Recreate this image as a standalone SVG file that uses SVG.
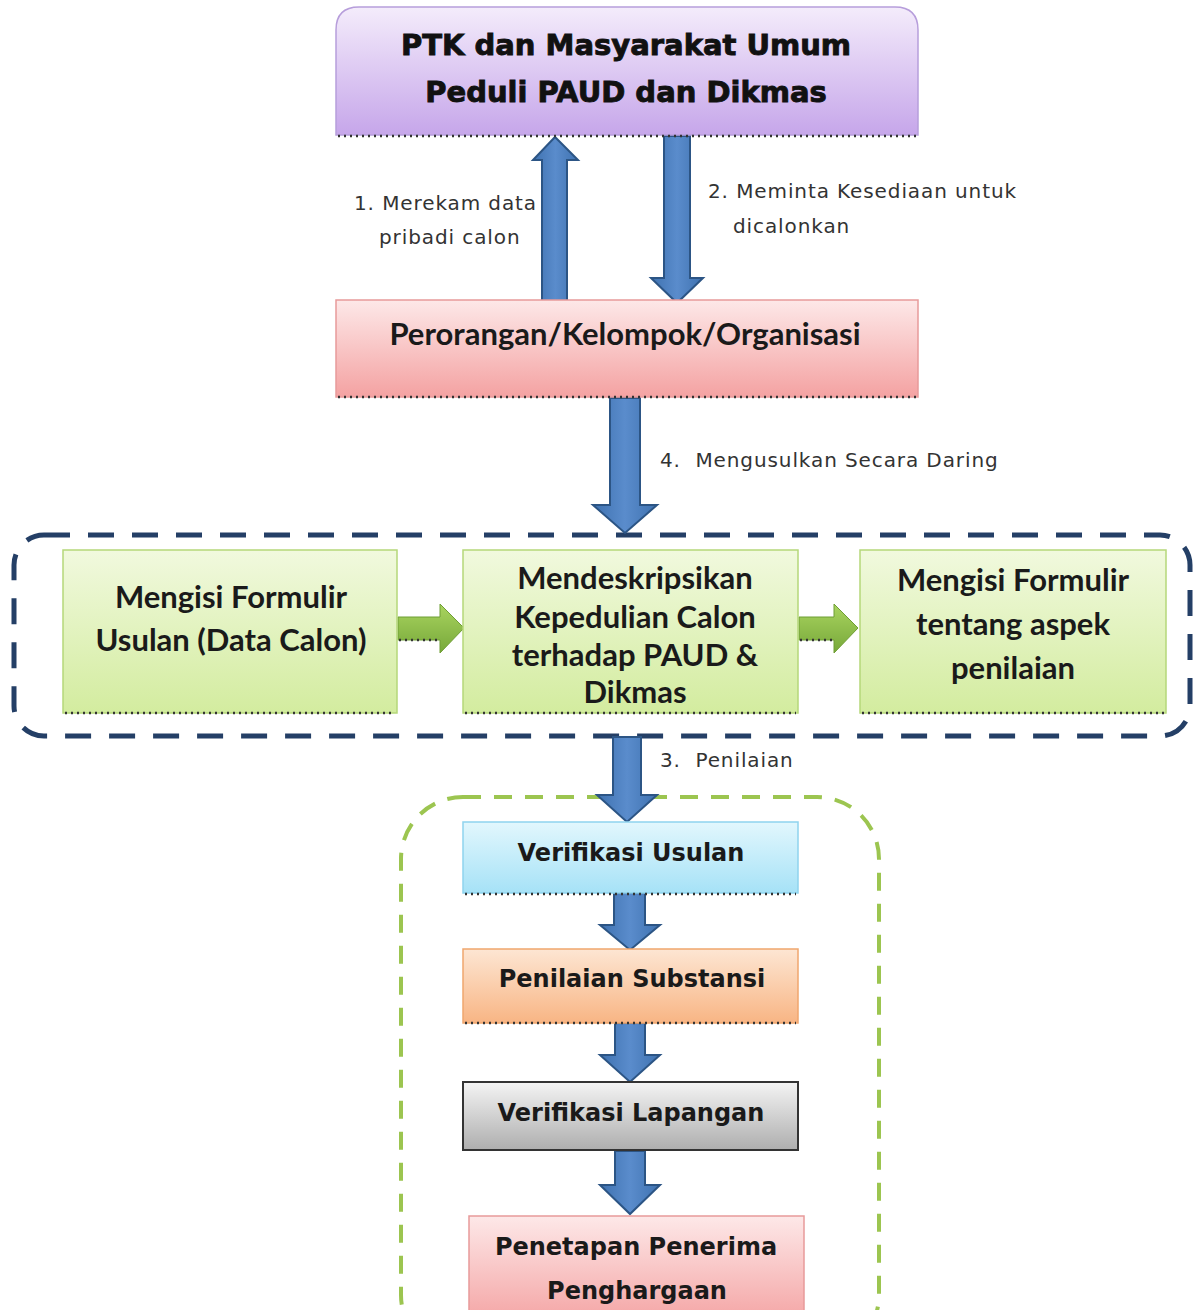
<svg xmlns="http://www.w3.org/2000/svg" width="1194" height="1310" viewBox="0 0 1194 1310">
  <style>
    .title { font-family: "DejaVu Sans", sans-serif; font-weight: bold; font-size: 29px; fill: #111; stroke: #111; stroke-width: 0.9; text-anchor: middle; }
    .cal { font-family: Lato, "Liberation Sans", sans-serif; font-weight: bold; font-size: 31px; fill: #1a1a1a; text-anchor: middle; }
    .step { font-family: "DejaVu Sans", sans-serif; font-weight: bold; font-size: 24px; fill: #1a1a1a; text-anchor: middle; }
    .lbl { font-family: "DejaVu Sans", sans-serif; font-size: 20px; letter-spacing: 0.9px; fill: #333; }
    .dots { fill: none; stroke: #333; stroke-width: 2.5; stroke-dasharray: 2 4; }
    .blue { fill: url(#gBlue); stroke: #2c5585; stroke-width: 2; }
    .garrow { fill: url(#gArrow); stroke: #6f9e34; stroke-width: 1; }
  </style>
  <defs>
    <linearGradient id="gPurple" x1="0" y1="0" x2="0" y2="1">
      <stop offset="0" stop-color="#f4ecfb"/>
      <stop offset="1" stop-color="#c6a6ea"/>
    </linearGradient>
    <linearGradient id="gPink" x1="0" y1="0" x2="0" y2="1">
      <stop offset="0" stop-color="#fde8e8"/>
      <stop offset="1" stop-color="#f4a2a2"/>
    </linearGradient>
    <linearGradient id="gGreen" x1="0" y1="0" x2="0" y2="1">
      <stop offset="0" stop-color="#f1f9de"/>
      <stop offset="1" stop-color="#d3ec9f"/>
    </linearGradient>
    <linearGradient id="gBlueBox" x1="0" y1="0" x2="0" y2="1">
      <stop offset="0" stop-color="#e2f7fd"/>
      <stop offset="1" stop-color="#a6e2f7"/>
    </linearGradient>
    <linearGradient id="gOrange" x1="0" y1="0" x2="0" y2="1">
      <stop offset="0" stop-color="#fde6d3"/>
      <stop offset="1" stop-color="#f8b584"/>
    </linearGradient>
    <linearGradient id="gGray" x1="0" y1="0" x2="0" y2="1">
      <stop offset="0" stop-color="#f4f4f4"/>
      <stop offset="1" stop-color="#aeaeae"/>
    </linearGradient>
    <linearGradient id="gBlue" x1="0" y1="0" x2="1" y2="0">
      <stop offset="0" stop-color="#3f72b0"/>
      <stop offset="0.5" stop-color="#5a8ccc"/>
      <stop offset="1" stop-color="#3f72b0"/>
    </linearGradient>
    <linearGradient id="gArrow" x1="0" y1="0" x2="0" y2="1">
      <stop offset="0" stop-color="#a9d45f"/>
      <stop offset="1" stop-color="#77a83a"/>
    </linearGradient>
  </defs>

  <rect width="1194" height="1310" fill="#ffffff"/>

  <!-- group outlines -->
  <g id="containers">
    <rect x="14" y="535" width="1176" height="201" rx="30" fill="none" stroke="#243f66" stroke-width="5" stroke-dasharray="26 18"/>
    <rect x="401" y="797" width="478" height="560" rx="62" fill="none" stroke="#9cc550" stroke-width="4" stroke-dasharray="18 13"/>
  </g>

  <!-- connectors -->
  <g id="connectors">
    <!-- 1: up arrow -->
    <path class="blue" d="M542,302 L542,160 L533,160 L555,137 L578,160 L567,160 L567,302 Z"/>
    <!-- 2: down arrow -->
    <path class="blue" d="M664,136 L690,136 L690,278 L703,278 L677,303 L651,278 L664,278 Z"/>
    <!-- 4: down arrow -->
    <path class="blue" d="M610,398 L640,398 L640,505 L657,505 L625,533 L593,505 L610,505 Z"/>
    <!-- 3: down arrow -->
    <path class="blue" d="M613,737 L641,737 L641,795 L657,795 L627,822 L597,795 L613,795 Z"/>
    <path class="blue" d="M614,893 L645,893 L645,925 L660,925 L630,950 L600,925 L614,925 Z"/>
    <path class="blue" d="M615,1023 L645,1023 L645,1055 L660,1055 L630,1082 L600,1055 L615,1055 Z"/>
    <path class="blue" d="M615,1151 L645,1151 L645,1185 L660,1185 L630,1214 L600,1185 L615,1185 Z"/>
    <!-- green arrows between form steps -->
    <path class="garrow" d="M398,617 L440,617 L440,604 L464,628 L440,653 L440,640 L398,640 Z"/>
    <path class="garrow" d="M799,617 L834,617 L834,604 L858,628 L834,653 L834,640 L799,640 Z"/>
    <line class="dots" x1="399" y1="640" x2="440" y2="640"/>
    <line class="dots" x1="800" y1="640" x2="834" y2="640"/>
  </g>

  <!-- connector labels -->
  <g id="labels">
    <text class="lbl" x="354" y="210">1. Merekam data</text>
    <text class="lbl" x="379" y="244">pribadi calon</text>
    <text class="lbl" x="708" y="198">2. Meminta Kesediaan untuk</text>
    <text class="lbl" x="733" y="233">dicalonkan</text>
    <text class="lbl" x="660" y="467" xml:space="preserve">4.  Mengusulkan Secara Daring</text>
    <text class="lbl" x="660" y="767" xml:space="preserve">3.  Penilaian</text>
  </g>

  <g id="node-ptk">
    <path d="M336,135 L336,30 Q336,7 359,7 L895,7 Q918,7 918,30 L918,135 Z" fill="url(#gPurple)" stroke="#b79edb" stroke-width="1.5"/>
    <line class="dots" x1="338" y1="136" x2="916" y2="136"/>
    <text class="title" x="626" y="55">PTK dan Masyarakat Umum</text>
    <text class="title" x="626" y="102">Peduli PAUD dan Dikmas</text>
  </g>

  <g id="node-perorangan">
    <rect x="336" y="300" width="582" height="97" fill="url(#gPink)" stroke="#e79a9a" stroke-width="1.5"/>
    <line class="dots" x1="338" y1="397" x2="916" y2="397"/>
    <text class="cal" x="625" y="345">Perorangan/Kelompok/Organisasi</text>
  </g>

  <g id="node-formulir">
    <rect x="63" y="550" width="334" height="163" fill="url(#gGreen)" stroke="#b5d77a" stroke-width="1.5"/>
    <line class="dots" x1="65" y1="713" x2="395" y2="713"/>
    <text class="cal" x="231" y="608">Mengisi Formulir</text>
    <text class="cal" x="231" y="651">Usulan (Data Calon)</text>
  </g>

  <g id="node-deskripsi">
    <rect x="463" y="550" width="335" height="163" fill="url(#gGreen)" stroke="#b5d77a" stroke-width="1.5"/>
    <line class="dots" x1="465" y1="713" x2="796" y2="713"/>
    <text class="cal" x="635" y="589">Mendeskripsikan</text>
    <text class="cal" x="635" y="628">Kepedulian Calon</text>
    <text class="cal" x="635" y="666">terhadap PAUD &amp;</text>
    <text class="cal" x="635" y="703">Dikmas</text>
  </g>

  <g id="node-aspek">
    <rect x="860" y="550" width="306" height="163" fill="url(#gGreen)" stroke="#b5d77a" stroke-width="1.5"/>
    <line class="dots" x1="862" y1="713" x2="1164" y2="713"/>
    <text class="cal" x="1013" y="591">Mengisi Formulir</text>
    <text class="cal" x="1013" y="635">tentang aspek</text>
    <text class="cal" x="1013" y="679">penilaian</text>
  </g>

  <g id="node-verifikasi-usulan">
    <rect x="463" y="822" width="335" height="71" fill="url(#gBlueBox)" stroke="#8fd3ee" stroke-width="1.5"/>
    <line class="dots" x1="465" y1="894" x2="796" y2="894"/>
    <text class="step" x="631" y="861">Verifikasi Usulan</text>
  </g>

  <g id="node-substansi">
    <rect x="463" y="949" width="335" height="74" fill="url(#gOrange)" stroke="#f0a66e" stroke-width="1.5"/>
    <line class="dots" x1="465" y1="1023" x2="796" y2="1023"/>
    <text class="step" x="632" y="987">Penilaian Substansi</text>
  </g>

  <g id="node-lapangan">
    <rect x="463" y="1082" width="335" height="68" fill="url(#gGray)" stroke="#333" stroke-width="2"/>
    <text class="step" x="631" y="1121">Verifikasi Lapangan</text>
  </g>

  <g id="node-penetapan">
    <rect x="469" y="1216" width="335" height="110" fill="url(#gPink)" stroke="#e79a9a" stroke-width="1.5"/>
    <text class="step" x="636" y="1255">Penetapan Penerima</text>
    <text class="step" x="637" y="1299">Penghargaan</text>
  </g>
</svg>
